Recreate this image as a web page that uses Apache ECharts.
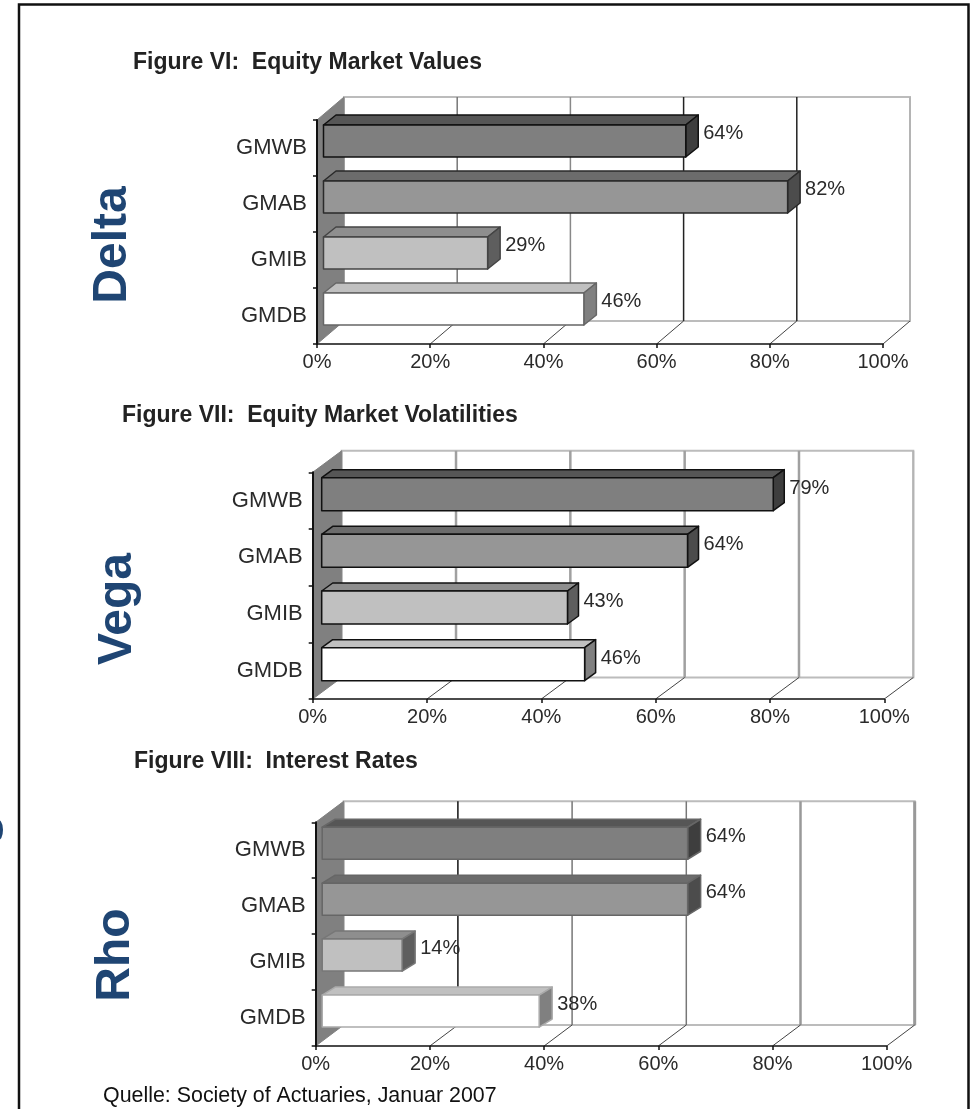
<!DOCTYPE html>
<html>
<head>
<meta charset="utf-8">
<style>html,body{margin:0;padding:0;background:#fff;overflow:hidden}#chart{width:971px;height:1109px}</style>
<script src="https://cdn.jsdelivr.net/npm/echarts@6/dist/echarts.min.js"></script>
</head>
<body>
<div id="chart"></div>
<script>
// Share of guarantee types by sensitivity, one 3D-style bar panel per Greek
const categories = ['GMWB', 'GMAB', 'GMIB', 'GMDB'];
const deltaValues = [64, 82, 29, 46];
const vegaValues = [79, 64, 43, 46];
const rhoValues = [64, 64, 14, 38];
const percentTicks = [0, 20, 40, 60, 80, 100];
const figureTitles = ['Figure VI:  Equity Market Values', 'Figure VII:  Equity Market Volatilities', 'Figure VIII:  Interest Rates'];
const greekNames = ['Delta', 'Vega', 'Rho'];
const sourceNote = 'Quelle: Society of Actuaries, Januar 2007';

const FONT = '"Liberation Sans", Arial, sans-serif';
const BLUE = '#1f4573';

// Face colours per category: front, top, side
const faces = [
  ['#7f7f7f', '#565656', '#3e3e3e'],
  ['#969696', '#6c6c6c', '#4c4c4c'],
  ['#c0c0c0', '#8e8e8e', '#5e5e5e'],
  ['#ffffff', '#c0c0c0', '#808080']
];

const panels = [
  { values: deltaValues, left: 317, top: 120, width: 566, height: 224,
    wallDx: 27, wallDy: 23, barDx: 6.5, barShift: -7, barH: 32, depthX: 12.5, depthY: 10, labelDy: 8.5,
    edges: ['#111', '#2a2a2a', '#444', '#666'],
    grid: [null, ['#777', 1.5], ['#888', 1.5], ['#222', 1.5], ['#222', 1.5], ['#b4b4b4', 2]] },
  { values: vegaValues, left: 312.7, top: 472.3, width: 571.6, height: 226.7,
    wallDx: 29, wallDy: 21.5, barDx: 9, barShift: -6.5, barH: 33, depthX: 11, depthY: 8, labelDy: 10.5,
    edges: ['#111', '#111', '#111', '#111'],
    grid: [null, ['#a0a0a0', 2.5], ['#a0a0a0', 2.5], ['#a0a0a0', 2.5], ['#a0a0a0', 2.5], ['#b4b4b4', 2]] },
  { values: rhoValues, left: 315.7, top: 822.3, width: 571, height: 223.7,
    wallDx: 28, wallDy: 21, barDx: 6.5, barShift: -7, barH: 32, depthX: 13, depthY: 8, labelDy: 9,
    edges: ['#666', '#666', '#777', '#aaa'],
    grid: [null, ['#111', 1.5], ['#777', 1.5], ['#777', 1.5], ['#999', 2.5], ['#999', 3]] }
];

// Back wall, side wall and floor of a panel; one data item per axis tick
function frameRenderer(panel) {
  return function (params, api) {
    const sys = params.coordSys;
    const value = api.value(0);
    const dx = panel.wallDx, dy = panel.wallDy;
    const base = api.coord([value, categories.length - 1]);
    const x = base[0];
    const yBottom = sys.y + sys.height, yTop = sys.y;
    const children = [];
    if (params.dataIndex === 0) {
      children.push({
        type: 'polygon',
        shape: { points: [[sys.x + dx, yTop - dy], [sys.x + sys.width + dx, yTop - dy], [sys.x + sys.width + dx, yBottom - dy], [sys.x + dx, yBottom - dy]] },
        style: { fill: '#fff', stroke: '#bcbcbc', lineWidth: 2 }
      }, {
        type: 'polygon',
        shape: { points: [[sys.x, yBottom], [sys.x, yTop], [sys.x + dx, yTop - dy], [sys.x + dx, yBottom - dy]] },
        style: { fill: '#808080', stroke: '#808080', lineWidth: 1 }
      });
    } else {
      const style = panel.grid[params.dataIndex];
      children.push({
        type: 'line',
        shape: { x1: x + dx, y1: yTop - dy, x2: x + dx, y2: yBottom - dy },
        style: { stroke: style[0], lineWidth: style[1] }
      }, {
        type: 'line',
        shape: { x1: x, y1: yBottom, x2: x + dx, y2: yBottom - dy },
        style: { stroke: '#444', lineWidth: 1 }
      });
    }
    return { type: 'group', children: children };
  };
}

// Extruded bar with its value label
function barRenderer(panel) {
  return function (params, api) {
    const i = params.dataIndex;
    const zero = api.coord([0, api.value(1)]);
    const end = api.coord([api.value(0), api.value(1)]);
    const left = zero[0] + panel.barDx, right = end[0] + panel.barDx;
    const top = zero[1] + panel.barShift - panel.barH / 2, bottom = top + panel.barH;
    const dx = panel.depthX, dy = panel.depthY;
    const colours = faces[i];
    const edge = { stroke: panel.edges[i], lineWidth: 1.5, lineJoin: 'round' };
    return {
      type: 'group',
      children: [
        { type: 'polygon', shape: { points: [[left, top], [left + dx, top - dy], [right + dx, top - dy], [right, top]] },
          style: Object.assign({ fill: colours[1] }, edge) },
        { type: 'polygon', shape: { points: [[right, top], [right + dx, top - dy], [right + dx, bottom - dy], [right, bottom]] },
          style: Object.assign({ fill: colours[2] }, edge) },
        { type: 'rect', shape: { x: left, y: top, width: right - left, height: bottom - top },
          style: Object.assign({ fill: colours[0] }, edge) },
        { type: 'text', x: right + dx + 5, y: top + panel.labelDy,
          style: { text: api.value(0) + '%', font: '20px ' + FONT, fill: '#2a2a2a', align: 'left', verticalAlign: 'middle' } }
      ]
    };
  };
}

const grids = [], xAxes = [], yAxes = [], series = [];
panels.forEach(function (panel, n) {
  grids.push({ left: panel.left, top: panel.top, width: panel.width, height: panel.height });
  xAxes.push({
    gridIndex: n, type: 'value', min: 0, max: 100, interval: 20, z: 6,
    axisLine: { show: true, lineStyle: { color: '#111', width: 1.5 } },
    axisTick: { show: true, length: 4, lineStyle: { color: '#111', width: 1.5 } },
    axisLabel: { formatter: '{value}%', margin: 8, fontFamily: FONT, fontSize: 20, color: '#2a2a2a' },
    splitLine: { show: false }
  });
  yAxes.push({
    gridIndex: n, type: 'category', data: categories, inverse: true, z: 6,
    axisLine: { show: true, lineStyle: { color: '#111', width: 2 } },
    axisTick: { show: true, length: 4, lineStyle: { color: '#111', width: 1.5 } },
    axisLabel: { margin: 10, fontFamily: FONT, fontSize: 22, color: '#2a2a2a' }
  });
  series.push({
    type: 'custom', xAxisIndex: n, yAxisIndex: n, z: 1, silent: true, clip: false,
    renderItem: frameRenderer(panel), encode: { x: 0 },
    data: percentTicks.map(function (t) { return [t]; })
  }, {
    type: 'custom', xAxisIndex: n, yAxisIndex: n, z: 3, silent: true, clip: false,
    renderItem: barRenderer(panel), encode: { x: 0, y: 1 },
    data: panel.values.map(function (v, i) { return [v, i]; })
  });
});

function label(text, x, y, font, fill, rotation) {
  return { type: 'text', x: x, y: y, rotation: rotation || 0, z: 10,
    style: { text: text, font: font, fill: fill, align: rotation ? 'center' : 'left', verticalAlign: 'middle' } };
}

const graphics = [
  { type: 'polyline', z: 10, shape: { points: [[19, 1200], [19, 4.5], [968.5, 4.5], [968.5, 1200]] },
    style: { fill: 'none', stroke: '#111', lineWidth: 2.5 } },
  label(figureTitles[0], 133, 62.5, 'bold 23px ' + FONT, '#222'),
  label(figureTitles[1], 122, 415.5, 'bold 23px ' + FONT, '#222'),
  label(figureTitles[2], 134, 761.5, 'bold 23px ' + FONT, '#222'),
  label(greekNames[0], 113, 245, 'bold 48px ' + FONT, BLUE, Math.PI / 2),
  label(greekNames[1], 118, 609, 'bold 48px ' + FONT, BLUE, Math.PI / 2),
  label(greekNames[2], 116, 955, 'bold 48px ' + FONT, BLUE, Math.PI / 2),
  label('s', -10, 830, 'bold 48px ' + FONT, BLUE, Math.PI / 2),
  label(sourceNote, 103, 1096, '21.4px ' + FONT, '#111')
];

const chart = echarts.init(document.getElementById('chart'), null, { renderer: 'canvas' });
chart.setOption({
  animation: false,
  backgroundColor: '#fff',
  grid: grids, xAxis: xAxes, yAxis: yAxes, series: series,
  graphic: { elements: graphics }
});
</script>
</body>
</html>
